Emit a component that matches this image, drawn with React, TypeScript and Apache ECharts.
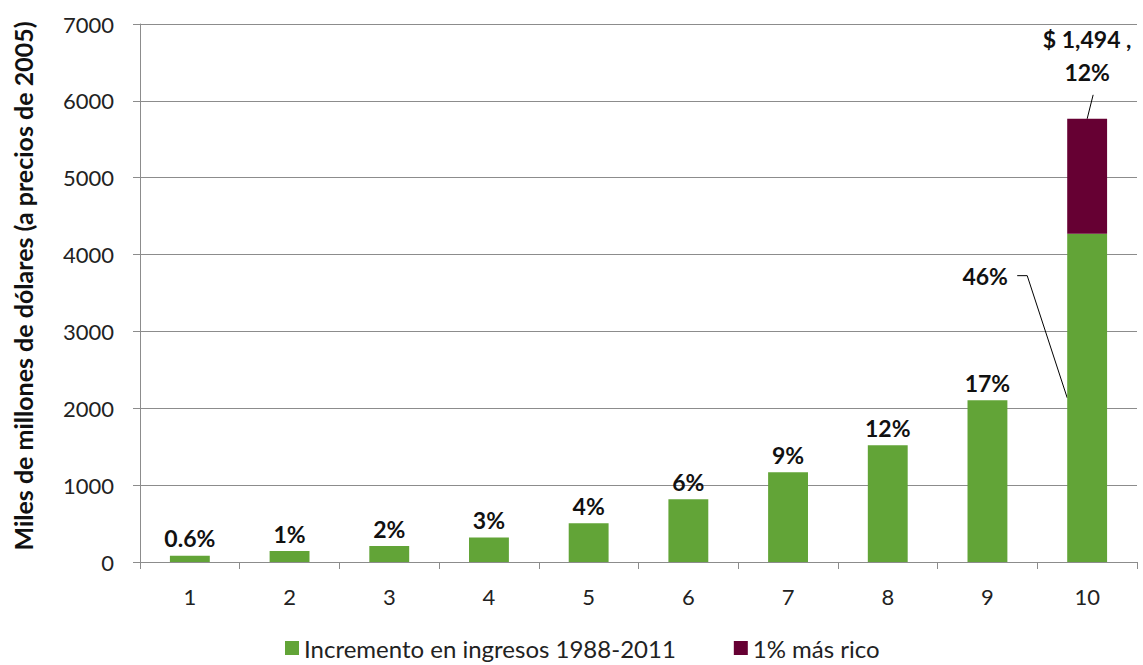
import { useEffect, useRef } from "react";
import * as echarts from "echarts";

// Income deciles on the x axis
const deciles = ["1", "2", "3", "4", "5", "6", "7", "8", "9", "10"];
// Income gain 1988-2011 per decile (billions of 2005 dollars)
const incomeGain = [80, 142, 208, 320, 503, 818, 1169, 1519, 2104, 4272];
// Share of total gain per decile
const gainShare = ["0.6%", "1%", "2%", "3%", "4%", "6%", "9%", "12%", "17%", "46%"];
// Extra gain captured by the richest 1% (only in the top decile)
const richestGain: (number | null)[] = [null, null, null, null, null, null, null, null, null, 1494];
const richestLabel = "$ 1,494 ,\n12%";

const yMin = 0;
const yMax = 7000;
const yStep = 1000;

const GREEN = "#62a437";
const MAROON = "#660033";
const GRID = "#8c8c8c";
const FONT = "Lato, 'Open Sans', sans-serif";

export default function App() {
  const ref = useRef<HTMLDivElement>(null);

  useEffect(() => {
    if (!ref.current) return;
    const chart = echarts.init(ref.current, undefined, { renderer: "svg" });
    const last = deciles.length - 1;

    const option: echarts.EChartsOption = {
      animation: false,
      textStyle: { fontFamily: FONT },
      grid: { left: 140, right: 6, top: 24, bottom: 103, containLabel: false },
      legend: {
        left: 285,
        top: 636,
        padding: 0,
        icon: "rect",
        itemWidth: 14,
        itemHeight: 14,
        itemGap: 58,
        textStyle: { fontSize: 24, color: "#222", fontFamily: FONT },
        data: ["Incremento en ingresos 1988-2011", "1% más rico"],
      },
      xAxis: {
        type: "category",
        data: deciles,
        axisLine: { lineStyle: { color: GRID } },
        axisTick: { show: true, length: 7, lineStyle: { color: GRID } },
        axisLabel: { color: "#222", fontSize: 22, margin: 23, fontFamily: FONT },
      },
      yAxis: {
        type: "value",
        min: yMin,
        max: yMax,
        interval: yStep,
        name: "Miles de millones de dólares (a precios de 2005)",
        nameLocation: "middle",
        nameRotate: 90,
        nameGap: 105,
        nameTextStyle: {
          fontSize: 25,
          fontWeight: "bold",
          color: "#111",
          fontFamily: FONT,
          padding: [0, 0, 0, 14],
        },
        axisLine: { show: true, lineStyle: { color: GRID } },
        axisTick: { show: true, length: 7, lineStyle: { color: GRID } },
        axisLabel: {
          color: "#222",
          fontSize: 22,
          margin: 26,
          fontFamily: FONT,
          formatter: (v: number) => String(v),
        },
        splitLine: { lineStyle: { color: GRID, width: 1 } },
      },
      series: [
        {
          name: "Incremento en ingresos 1988-2011",
          type: "bar",
          stack: "total",
          barWidth: "40%",
          itemStyle: { color: GREEN },
          label: {
            show: true,
            position: "top",
            distance: 6,
            fontSize: 23,
            fontWeight: "bold",
            color: "#111",
            fontFamily: FONT,
            formatter: (p: any) => gainShare[p.dataIndex],
          },
          data: incomeGain.map((v, i) =>
            i === last
              ? {
                  value: v,
                  label: {
                    position: [-82, 42],
                    align: "center",
                    verticalAlign: "middle",
                  },
                }
              : v
          ),
        },
        {
          name: "1% más rico",
          type: "bar",
          stack: "total",
          barWidth: "40%",
          itemStyle: { color: MAROON },
          label: {
            show: true,
            position: "top",
            distance: 30,
            fontSize: 23,
            fontWeight: "bold",
            color: "#111",
            lineHeight: 33,
            fontFamily: FONT,
            formatter: () => richestLabel,
          },
          data: richestGain.map((v) => (v === null ? "-" : v)),
        },
      ],
    };
    chart.setOption(option);

    // Leader lines tying the top-decile labels to their bar segments
    const green = incomeGain[last];
    const total = green + (richestGain[last] ?? 0);
    const topGreen = chart.convertToPixel({ gridIndex: 0 }, [last, green]) as number[];
    const midGreen = chart.convertToPixel({ gridIndex: 0 }, [last, green / 2]) as number[];
    const topAll = chart.convertToPixel({ gridIndex: 0 }, [last, total]) as number[];
    const catW = (chart.convertToPixel({ gridIndex: 0 }, [1, 0]) as number[])[0] -
      (chart.convertToPixel({ gridIndex: 0 }, [0, 0]) as number[])[0];
    const barLeft = topGreen[0] - catW * 0.2;
    const labelY = topGreen[1] + 42;

    chart.setOption({
      graphic: [
        {
          type: "polyline",
          shape: {
            points: [
              [barLeft - 50, labelY],
              [barLeft - 40, labelY],
              [barLeft, midGreen[1]],
            ],
          },
          style: { stroke: "#000", lineWidth: 1, fill: "none" },
          silent: true,
        },
        {
          type: "line",
          shape: { x1: topAll[0] + 6, y1: topAll[1] - 24, x2: topAll[0], y2: topAll[1] },
          style: { stroke: "#000", lineWidth: 1 },
          silent: true,
        },
      ],
    });

    return () => chart.dispose();
  }, []);

  return (
    <div
      ref={ref}
      style={{ position: "fixed", left: 0, top: 0, width: 1143, height: 665, background: "#fff" }}
    />
  );
}
